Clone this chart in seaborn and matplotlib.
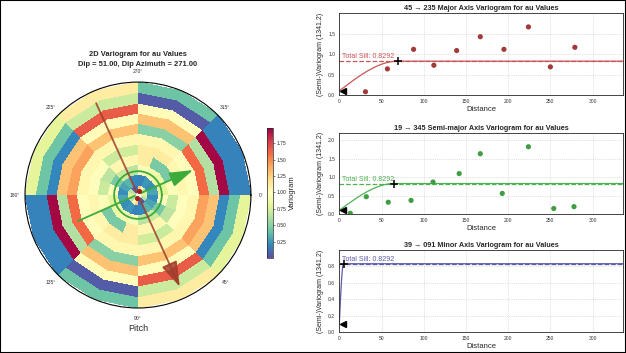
import numpy as np
import matplotlib
matplotlib.use('Agg')
import matplotlib.pyplot as plt
import seaborn as sns
from matplotlib.patches import Rectangle

# polar variogram map: 11 lag rings, 16 sectors of 22.5 deg (clockwise from east)
ring_edges = [0, 28, 56, 84, 112, 140, 168, 196, 224, 252, 280, 308]
sector_edges = [0, 22.5, 45, 67.5, 90, 112.5, 135, 157.5, 180,
                202.5, 225, 247.5, 270, 292.5, 315, 337.5, 360]
ring01 = [0.75, 0.62, 0.05, 0.12, 1.25, 1.05, 0.62, 0.78, 0.75, 0.62, 0.05, 0.12, 1.25, 1.05, 0.62, 0.78]
ring02 = [0.22, 0.30, 0.35, 0.20, 0.18, 0.25, 0.22, 0.30, 0.22, 0.30, 0.35, 0.20, 0.18, 0.25, 0.22, 0.30]
ring03 = [1.00, 0.45, 0.70, 0.65, 0.95, 0.90, 0.85, 0.80, 1.00, 0.45, 0.70, 0.65, 0.95, 0.90, 0.85, 0.80]
ring04 = [0.70, 0.65, 1.05, 1.05, 1.10, 0.45, 0.45, 0.95, 0.70, 0.65, 1.05, 1.05, 1.10, 0.45, 0.45, 0.95]
ring05 = [1.00, 1.00, 0.70, 0.72, 1.10, 1.10, 1.05, 1.05, 1.00, 1.00, 0.70, 0.72, 1.10, 1.10, 1.05, 1.05]
ring06 = [1.05, 1.05, 1.05, 1.05, 1.05, 1.05, 1.00, 1.00, 1.05, 1.05, 1.05, 1.05, 1.05, 1.05, 1.00, 1.00]
ring07 = [1.42, 1.42, 1.30, 1.30, 0.50, 0.50, 1.60, 1.60, 1.42, 1.42, 1.30, 1.30, 0.50, 0.50, 1.60, 1.60]
ring08 = [1.30, 1.30, 1.02, 1.02, 1.30, 1.30, 0.62, 0.62, 1.30, 1.30, 1.02, 1.02, 1.30, 1.30, 0.62, 0.62]
ring09 = [0.20, 0.20, 1.65, 1.65, 1.02, 1.02, 1.95, 1.95, 0.20, 0.20, 1.65, 1.65, 1.02, 1.02, 1.95, 1.95]
ring10 = [0.42, 0.42, 0.70, 0.70, 0.05, 0.05, 0.18, 0.18, 0.42, 0.42, 0.70, 0.70, 0.05, 0.05, 0.18, 0.18]
ring11 = [0.80, 0.80, 1.10, 1.10, 0.42, 0.42, 0.18, 0.18, 0.80, 0.80, 1.10, 1.10, 0.42, 0.42, 0.18, 0.18]

angle_ticks = [0, 45, 90, 135, 180, 225, 270, 315]
angle_labels = ['0°', '45°', '90°', '135°', '180°', '225°', '270°', '315°']

# directional experimental variograms
major_lag = [31, 57, 88, 112, 139, 167, 195, 224, 250, 279]
major_gamma = [0.08, 0.64, 1.12, 0.73, 1.09, 1.43, 1.12, 1.67, 0.69, 1.17]
semi_lag = [13, 32, 58, 85, 111, 142, 167, 193, 224, 254, 278]
semi_gamma = [0.02, 0.47, 0.32, 0.37, 0.87, 1.10, 1.64, 0.56, 1.83, 0.15, 0.20]
minor_lag = []
minor_gamma = []

nugget = 0.10
total_sill = 0.8292
major_range = 69
semi_range = 65
minor_range = 5

sns.set_style('whitegrid', {'grid.linestyle': ':', 'grid.color': '0.78', 'axes.edgecolor': '0.15'})
plt.rcParams['font.family'] = ['Liberation Sans', 'DejaVu Sans']
cmap = sns.color_palette('Spectral_r', as_cmap=True)

fig = plt.figure(figsize=(6.26, 3.53), dpi=100)

# ---- polar map ----
ax_p = fig.add_axes([0.0399, 0.1275, 0.361, 0.640], projection='polar')
values = np.array([ring01, ring02, ring03, ring04, ring05, ring06,
                   ring07, ring08, ring09, ring10, ring11])
mesh = ax_p.pcolormesh(np.deg2rad(sector_edges), ring_edges, values,
                       cmap=cmap, vmin=0, vmax=1.98, shading='flat')
ax_p.set_theta_zero_location('E')
ax_p.set_theta_direction(-1)
ax_p.set_ylim(0, 308)
ax_p.set_yticks([])
ax_p.set_xticks(np.deg2rad(angle_ticks))
ax_p.set_xticklabels(angle_labels, fontsize=3.6, color='0.2')
ax_p.tick_params(axis='x', pad=-3)
ax_p.grid(False)
ax_p.spines['polar'].set_edgecolor('black')
ax_p.spines['polar'].set_linewidth(0.8)

# semi-major range circle
circ = np.linspace(0, 2 * np.pi, 200)
ax_p.plot(circ, np.full(200, semi_range), color='#3cab3c', lw=1.3)

# major / semi-major direction arrows
ax_p.annotate('', xy=(np.deg2rad(65.5), 275), xytext=(np.deg2rad(245.5), 275),
              arrowprops=dict(arrowstyle='-|>,head_length=1.3,head_width=0.42',
                              color='#a03c2c', lw=1.3, mutation_scale=12,
                              shrinkA=0, shrinkB=0, alpha=0.85))
ax_p.annotate('', xy=(np.deg2rad(335.6), 165), xytext=(np.deg2rad(156.6), 177),
              arrowprops=dict(arrowstyle='-|>,head_length=1.2,head_width=0.38',
                              color='#3cab3c', lw=1.3, mutation_scale=12,
                              shrinkA=0, shrinkB=0))
ax_p.scatter([0], [0], s=10, color='white', zorder=5)
ax_p.scatter(np.deg2rad([290, 110]), [12, 8], s=7, color='#a3201c', zorder=6)

ax_p.set_title('2D Variogram for au Values\nDip = 51.00, Dip Azimuth = 271.00',
               fontsize=5.4, fontweight='bold', pad=2.5, linespacing=1.55)
ax_p.set_xlabel('Pitch', fontsize=6.5, labelpad=2)

cax = fig.add_axes([0.4265, 0.2691, 0.0096, 0.3683])
cb = fig.colorbar(mesh, cax=cax, ticks=[0.25, 0.5, 0.75, 1.0, 1.25, 1.5, 1.75])
cb.set_label('Variogram', fontsize=5.5, labelpad=2)
cb.ax.tick_params(labelsize=3.6, length=1.5, width=0.4, pad=1)
cb.outline.set_linewidth(0.5)


# ---- directional variogram panels ----
def variogram_panel(rect, lag, gamma, rng, pt_color, line_color, title, yticks):
    ax = fig.add_axes(rect)
    if len(lag) > 0:
        sns.scatterplot(x=lag, y=gamma, color=pt_color, s=14, edgecolor='none', ax=ax, zorder=3)
    h = np.linspace(0, rng, 60)
    model = nugget + (total_sill - nugget) * (1.5 * h / rng - 0.5 * (h / rng) ** 3)
    ax.plot(list(h) + [336], list(model) + [total_sill], color=line_color, lw=0.9)
    ax.axhline(total_sill, color=line_color, ls='--', lw=0.9)
    ax.plot([4], [nugget], marker='<', color='black', ms=5, zorder=4)
    ax.plot([rng], [total_sill], marker='+', color='black', ms=6, mew=1.1, zorder=4)
    ax.annotate(f'Total Sill: {total_sill:.4f}', xy=(3, total_sill), xytext=(0, 0.5),
                textcoords='offset points', fontsize=5, color=line_color, va='bottom')
    ymax = 1.2 * max([total_sill] + list(gamma))
    ax.set_xlim(0, 336)
    ax.set_ylim(0, ymax)
    ax.set_xticks([0, 50, 100, 150, 200, 250, 300])
    ax.set_yticks(yticks)
    ax.tick_params(labelsize=3.6, length=1.5, width=0.4, pad=1.5, colors='0.2')
    ax.set_xlabel('Distance', fontsize=5.5, labelpad=1)
    ax.set_ylabel('(Semi-)Variogram (1341.2)', fontsize=5, labelpad=3)
    ax.set_title(title, fontsize=5.2, fontweight='bold', pad=2.5)
    ax.grid(True, lw=0.5)
    for s in ax.spines.values():
        s.set_linewidth(0.6)
    return ax


variogram_panel([0.542, 0.7309, 0.4532, 0.2314], major_lag, major_gamma, major_range,
                '#a33a3a', '#c95656', '45 → 235 Major Axis Variogram for au Values',
                [0.0, 0.5, 1.0, 1.5])
variogram_panel([0.542, 0.3938, 0.4532, 0.2286], semi_lag, semi_gamma, semi_range,
                '#3f9e42', '#4fb052', '19 → 345 Semi-major Axis Variogram for au Values',
                [0.0, 0.5, 1.0, 1.5, 2.0])
variogram_panel([0.542, 0.0586, 0.4532, 0.2331], minor_lag, minor_gamma, minor_range,
                '#4a4aa8', '#5a5aa8', '39 → 091 Minor Axis Variogram for au Values',
                [0.0, 0.2, 0.4, 0.6, 0.8])

fig.patches.append(Rectangle((0, 0), 1, 1, transform=fig.transFigure, fill=False,
                             edgecolor='black', lw=1.5))

fig.savefig('out.png', dpi=100)
